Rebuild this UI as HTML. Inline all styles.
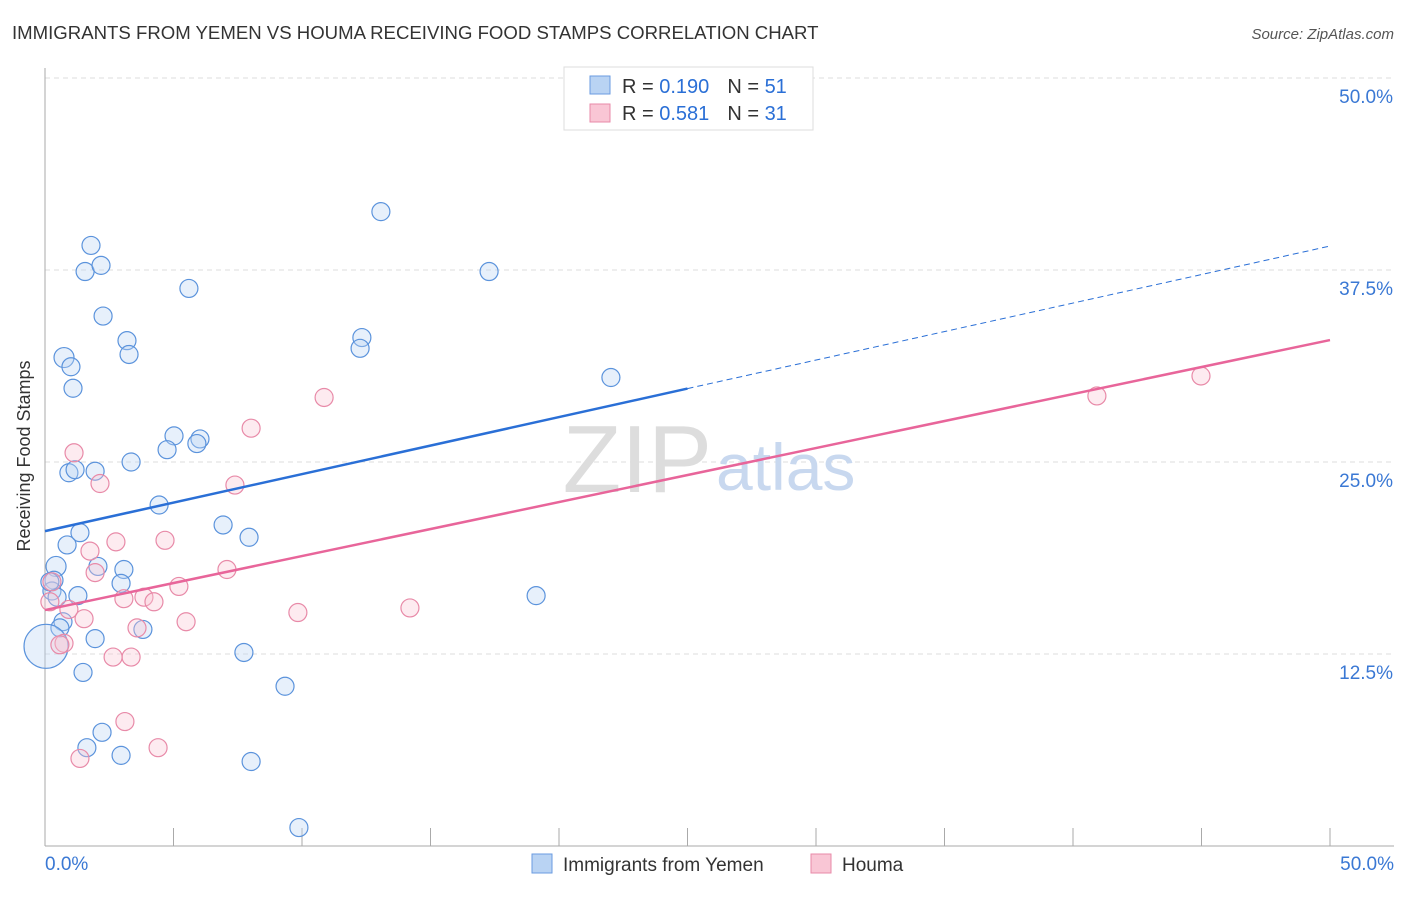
<!DOCTYPE html>
<html><head><meta charset="utf-8"><style>
body{margin:0;background:#fff;font-family:"Liberation Sans",sans-serif}
svg text{font-family:"Liberation Sans",sans-serif}
</style></head><body>
<svg id="chart" width="1406" height="892" xmlns="http://www.w3.org/2000/svg">
<text x="12" y="39" font-size="18.6" fill="#333">IMMIGRANTS FROM YEMEN VS HOUMA RECEIVING FOOD STAMPS CORRELATION CHART</text>
<text x="1394" y="39" font-size="15" fill="#555" text-anchor="end" font-style="italic">Source: ZipAtlas.com</text>
<text x="30" y="456" font-size="18" fill="#333" transform="rotate(-90 30 456)" text-anchor="middle">Receiving Food Stamps</text>
<g id="grid"></g>
<text x="712" y="492" font-size="96" fill="#ddd" text-anchor="end" font-family="Liberation Serif">ZIP</text>
<text x="716" y="490" font-size="66" fill="#c8d8ef">atlas</text>
<g id="marks"></g>
<g>
<rect x="564" y="67" width="249" height="63" fill="#fff" stroke="#ddd"/>
<rect x="590" y="76" width="20" height="18" fill="#b9d3f3" stroke="#6a9be0"/>
<rect x="590" y="104" width="20" height="18" fill="#f9c6d5" stroke="#e88aa8"/>
<text x="622" y="93" font-size="20" fill="#333">R = <tspan fill="#2a6fd6">0.190</tspan><tspan dx="18">N = </tspan><tspan fill="#2a6fd6">51</tspan></text>
<text x="622" y="120" font-size="20" fill="#333">R = <tspan fill="#2a6fd6">0.581</tspan><tspan dx="18">N = </tspan><tspan fill="#2a6fd6">31</tspan></text>
</g>
<g>
<rect x="532" y="854" width="20" height="19" fill="#b9d3f3" stroke="#6a9be0"/>
<text x="563" y="871" font-size="19" fill="#333">Immigrants from Yemen</text>
<rect x="811" y="854" width="20" height="19" fill="#f9c6d5" stroke="#e88aa8"/>
<text x="842" y="871" font-size="19" fill="#333">Houma</text>
</g>
</svg>
<script>
const yTicks=[12.5,25,37.5,50];
const yTickLabels=["12.5%","25.0%","37.5%","50.0%"];
const xTickLabels=["0.0%","50.0%"];
const yemenX=[1.79,1.56,2.18,2.26,3.19,3.27,0.74,1.01,1.09,5.60,13.07,17.28,12.33,12.26,22.02,5.02,4.75,6.03,5.91,3.35,0.93,1.17,1.95,4.44,6.93,1.36,7.94,0.86,2.06,0.43,3.07,2.96,0.35,0.27,1.28,0.47,0.70,0.58,3.81,1.95,19.11,7.74,1.48,9.34,2.22,1.63,2.96,8.02,9.88,0.04,0.19];
const yemenY=[39.1,37.4,37.8,34.5,32.9,32.0,31.8,31.2,29.8,36.3,41.3,37.4,33.1,32.4,30.5,26.7,25.8,26.5,26.2,25.0,24.3,24.5,24.4,22.2,20.9,20.4,20.1,19.6,18.2,18.2,18.0,17.1,17.3,16.6,16.3,16.2,14.6,14.2,14.1,13.5,16.3,12.6,11.3,10.4,7.4,6.4,5.9,5.5,1.2,13.0,17.2];
const yemenR=[9,9,9,9,9,9,10,9,9,9,9,9,9,9,9,9,9,9,9,9,9,9,9,9,9,9,9,9,9,10,9,9,9,9,9,9,9,9,9,9,9,9,9,9,9,9,9,9,9,22,9];
const houmaX=[1.13,2.14,8.02,10.86,40.93,44.98,7.39,1.75,2.76,4.67,1.95,7.08,5.21,3.07,3.85,4.24,0.93,1.52,9.84,14.2,5.49,3.58,0.74,0.58,2.65,3.35,3.11,4.40,1.36,0.27,0.19];
const houmaY=[25.6,23.6,27.2,29.2,29.3,30.6,23.5,19.2,19.8,19.9,17.8,18.0,16.9,16.1,16.2,15.9,15.4,14.8,15.2,15.5,14.6,14.2,13.2,13.1,12.3,12.3,8.1,6.4,5.7,17.2,15.9];
const yemenLine=[20.5,39.06];
const houmaLine=[15.36,32.94];
const xs=v=>45+v/50*1285, ys=v=>846-v/50*768;
const NS="http://www.w3.org/2000/svg";
const grid=document.getElementById('grid'), marks=document.getElementById('marks');
function mk(tag,attrs,parent){const e=document.createElementNS(NS,tag);for(const k in attrs)e.setAttribute(k,attrs[k]);parent.appendChild(e);return e;}
yTicks.forEach((t,i)=>{
 const l=mk('line',{x1:45,x2:1394,y1:ys(t),y2:ys(t),stroke:'#ddd','stroke-dasharray':'5,4'},grid);
 
 
 const tx=mk('text',{x:1393,y:ys(t)+25,'font-size':19,fill:'#3a78d4','text-anchor':'end'},grid);
 tx.textContent=yTickLabels[i];
 
 
});
const ax=mk('line',{x1:45,x2:45,y1:68,y2:846,stroke:'#aaa'},grid);


const bx=mk('line',{x1:45,x2:1394,y1:846,y2:846,stroke:'#aaa'},grid);


for(let i=0;i<=10;i++){const t=mk('line',{x1:xs(i*5),x2:xs(i*5),y1:828,y2:846,stroke:'#aaa'},grid);
 
 }
[[0,'start',45],[50,'end',1394]].forEach((d,i)=>{const t=mk('text',{x:d[2],y:870,'font-size':19,fill:'#3a78d4','text-anchor':d[1]},grid);t.textContent=xTickLabels[i];
 
 });
function pts(X,Y,R,fill,stroke,name){X.forEach((x,i)=>{const c=mk('circle',{cx:xs(x),cy:ys(Y[i]),r:R?R[i]:9,fill:fill,'fill-opacity':0.35,stroke:stroke,'stroke-width':1.2},marks);
 
 });}
pts(yemenX,yemenY,yemenR,'#b9d3f3','#5b93dc','yemen-point');
pts(houmaX,houmaY,null,'#f9c6d5','#e88aa8','houma-point');
const bl=mk('line',{x1:xs(0),y1:ys(yemenLine[0]),x2:xs(25),y2:ys(yemenLine[0]+(yemenLine[1]-yemenLine[0])/2),stroke:'#2a6fd6','stroke-width':2.5},marks);


const bd=mk('line',{x1:xs(25),y1:ys(yemenLine[0]+(yemenLine[1]-yemenLine[0])/2),x2:xs(50),y2:ys(yemenLine[1]),stroke:'#2a6fd6','stroke-width':1,'stroke-dasharray':'6,4'},marks);


const pl=mk('line',{x1:xs(0),y1:ys(houmaLine[0]),x2:xs(50),y2:ys(houmaLine[1]),stroke:'#e8659a','stroke-width':2.5},marks);


</script>
</body></html>
